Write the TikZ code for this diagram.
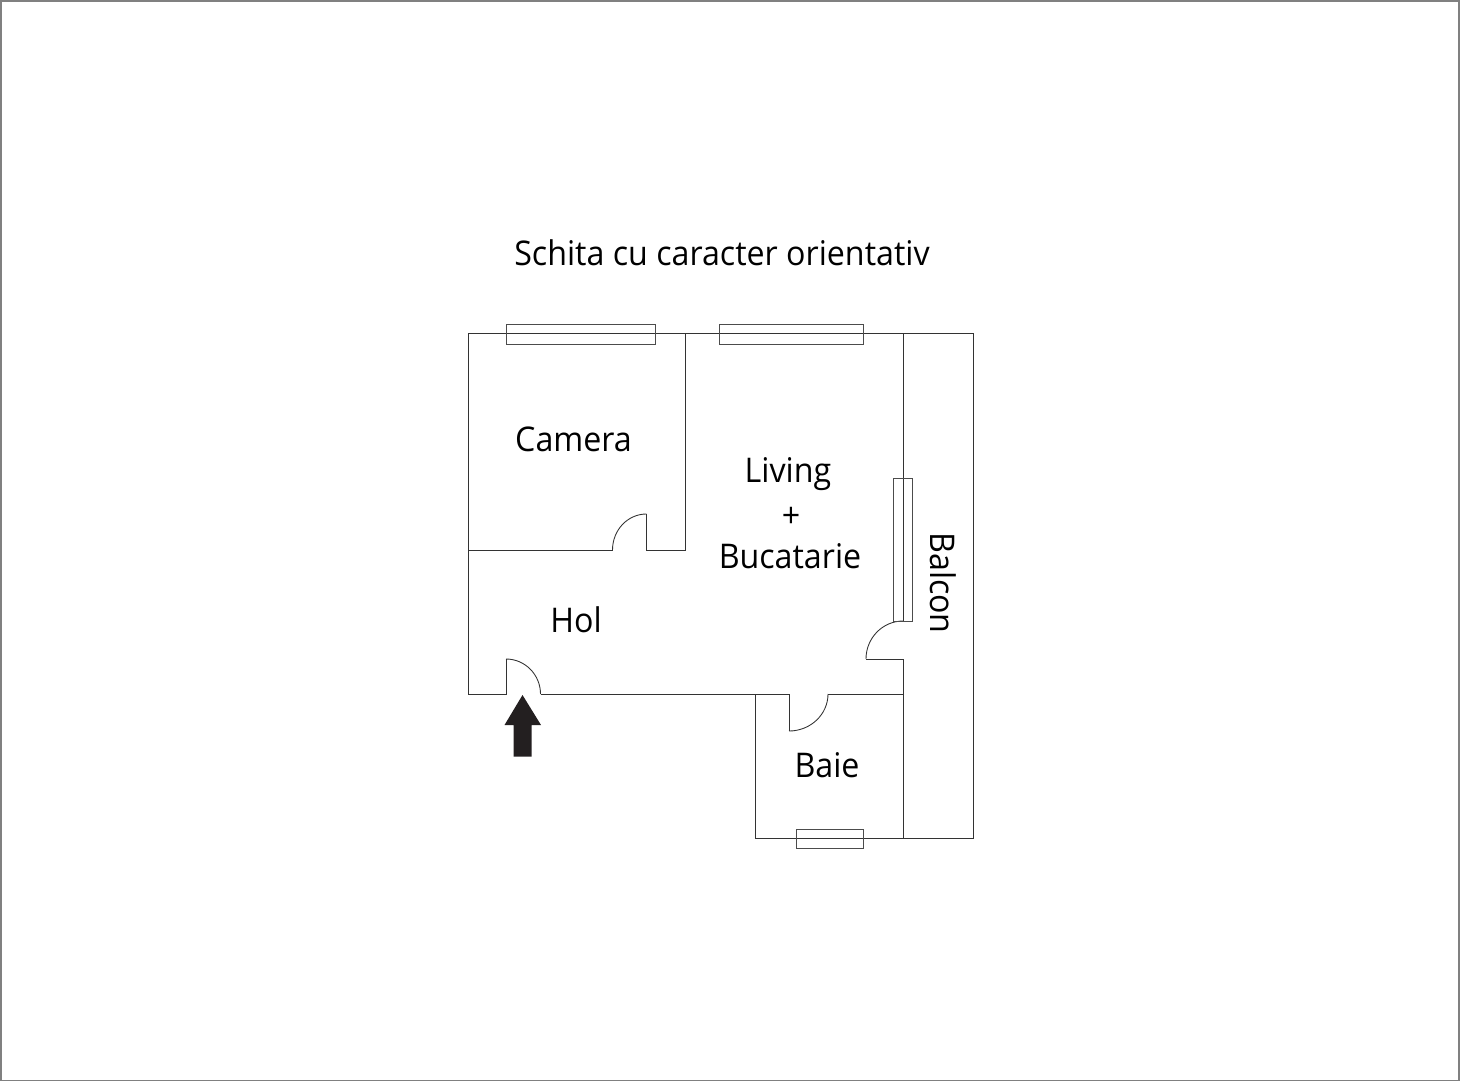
\documentclass[tikz,border=0pt]{standalone}
\usepackage{fontspec}
\setmainfont[FakeStretch=0.947]{Open Sans}
\definecolor{arrowink}{HTML}{231F20}
\tikzset{
  wall/.style={draw=black!80,line width=0.65pt,line join=miter},
  win/.style={draw=black!70,line width=0.7pt},
  frame/.style={draw=black!50,line width=1.3pt},
  label/.style={anchor=base,inner sep=0pt,font=\fontsize{25.5pt}{30pt}\selectfont,text=black},
  arrowfill/.style={fill=arrowink,draw=none}
}
\begin{document}
\begin{tikzpicture}[x=0.75pt,y=-0.75pt]
\useasboundingbox (0,0) rectangle (1460,1082);
\draw[frame] (1,1) rectangle (1459,1080.5);
% walls
\draw[wall] (903,621) -- (903,333);
\draw[wall] (468,333) -- (973,333) -- (973,838) -- (755,838) -- (755,694);
\draw[wall] (903,659) -- (903,838);
\draw[wall] (506,659) -- (506,694) -- (468,694) -- (468,333);
\draw[wall] (685,333) -- (685,550) -- (646.5,550) -- (646.5,514);
\draw[wall] (468,550) -- (612.5,550);
\draw[wall] (540.5,694) -- (789,694) -- (789,731);
\draw[wall] (828,694) -- (903,694);
\draw[wall] (866,659) -- (903,659);
% door arcs
\draw[wall] (506,659) .. controls (525,659) and (540.5,674.7) .. (540.5,694);
\draw[wall] (612.5,550) .. controls (612.5,530) and (627.7,514) .. (646.5,514);
\draw[wall] (866,659) .. controls (866,638) and (882.6,621) .. (903,621);
\draw[wall] (828,694) .. controls (828,714.4) and (810.5,731) .. (789,731);
% windows
\draw[win] (506,324.5) rectangle (655,344);
\draw[win] (719.5,324.5) rectangle (863.5,344);
\draw[win] (893,478) rectangle (912.5,621);
\draw[win] (796.5,829) rectangle (863.5,848);
% entrance arrow
\fill[arrowfill] (522.5,695) -- (541,725) -- (531.5,725) -- (531.5,756.5) -- (513.5,756.5) -- (513.5,725) -- (504.5,725) -- cycle;
% labels
\node[label] (title) at (722,265) {Schita cu caracter orientativ};
\node[label] (camera) at (573.5,451) {Camera};
\node[label] (living) at (788,482) {Living};
\node[label] (plus) at (791,527) {+};
\node[label] (bucatarie) at (790,568) {Bucatarie};
\node[label] (hol) at (576,632) {Hol};
\node[label] (baie) at (827,777) {Baie};
\node[label,rotate=-90] (balcon) at (930,583) {Balcon};
\end{tikzpicture}
\end{document}
